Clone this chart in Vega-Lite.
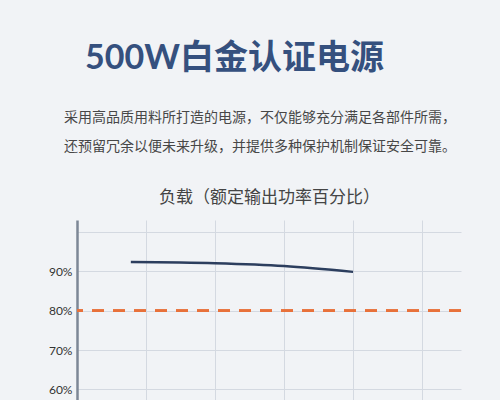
{
  "$schema": "https://vega.github.io/schema/vega-lite/v6.json",
  "autosize": {"type": "none"},
  "width": 384,
  "height": 180,
  "padding": {"left": 77, "top": 220, "right": 39, "bottom": 0},
  "background": "#f1f3f6",
  "title": {
    "text": "500W白金认证电源\u3000\u2002\u200d",
    "subtitle": ["采用高品质用料所打造的电源，不仅能够充分满足各部件所需，", "还预留冗余以便未来升级，并提供多种保护机制保证安全可靠。"],
    "anchor": "middle",
    "frame": "group",
    "dx": -9,
    "font": "Lato, Noto Sans CJK SC",
    "fontSize": 34,
    "fontWeight": "bold",
    "color": "#35507e",
    "subtitleFont": "Noto Sans CJK SC",
    "subtitleFontSize": 14,
    "subtitleColor": "#474747",
    "subtitleLineHeight": 29,
    "subtitlePadding": 35,
    "offset": 34
  },
  "data": {
    "values": [
      {"load": 19.5, "efficiency": 92.4},
      {"load": 50, "efficiency": 92.1},
      {"load": 75, "efficiency": 91.4},
      {"load": 100, "efficiency": 89.9}
    ]
  },
  "layer": [
    {
      "mark": {"type": "rule", "color": "#e8713a", "strokeWidth": 2.5, "strokeDash": [12, 9], "clip": false},
      "encoding": {"y": {"datum": 80, "type": "quantitative"}}
    },
    {
      "mark": {"type": "line", "color": "#2c3e5e", "strokeWidth": 2.5, "interpolate": "monotone"},
      "encoding": {
        "x": {
          "field": "load",
          "type": "quantitative",
          "scale": {"domain": [0, 139.1], "nice": false, "zero": false},
          "axis": {
            "orient": "top",
            "values": [25, 50, 75, 100, 125],
            "labels": false,
            "ticks": false,
            "domain": false,
            "grid": true,
            "gridColor": "#d4d9e1",
            "gridWidth": 1,
            "title": "负载（额定输出功率百分比）",
            "titleFont": "Noto Sans CJK SC",
            "titleFontSize": 17,
            "titleFontWeight": "normal",
            "titleColor": "#444444",
            "titlePadding": 14
          }
        },
        "y": {
          "field": "efficiency",
          "type": "quantitative",
          "scale": {"domain": [57.3, 103.1], "nice": false, "zero": false},
          "axis": {
            "values": [60, 70, 80, 90, 100],
            "labelExpr": "datum.value >= 100 ? '' : datum.value + '%'",
            "labelFont": "Lato",
            "labelFontSize": 12,
            "labelColor": "#333333",
            "labelPadding": 5,
            "ticks": false,
            "domain": true,
            "domainColor": "#7d8796",
            "domainWidth": 2.5,
            "grid": true,
            "gridColor": "#d4d9e1",
            "gridWidth": 1,
            "title": null
          }
        }
      }
    }
  ],
  "config": {"view": {"stroke": null}}
}
